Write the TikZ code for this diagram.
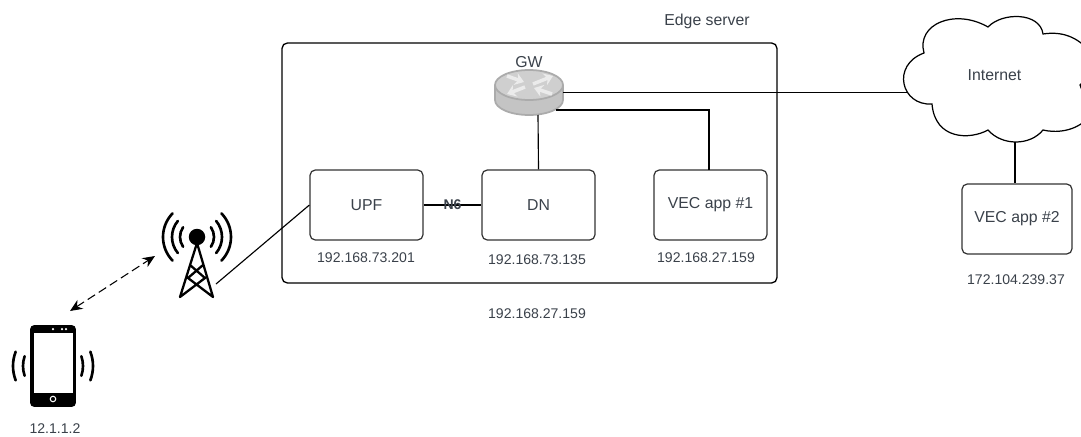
\documentclass[tikz,border=0pt]{standalone}
\usepackage{fontspec}
\setmainfont{Liberation Sans}
\usetikzlibrary{arrows.meta}
\usetikzlibrary{calc}
\usetikzlibrary{positioning}
\definecolor{txtgrey}{HTML}{3A414A}
\definecolor{routertop}{HTML}{CFCFCF}
\definecolor{routerside}{HTML}{C4C4C4}
\definecolor{routerline}{HTML}{ABABAB}

\begin{document}
\begin{tikzpicture}
	[
	x = 0.02cm,
	y = -0.02cm,
	> = {Stealth[length=7pt,width=6pt]},
	every node/.style = {font=\fontsize{8}{10}\selectfont,text=txtgrey},
	bigtext/.style = {font=\fontsize{9}{11}\selectfont},
	box/.style = {draw=black!80,line width=0.7pt,rounded corners=3pt,minimum width=2.26cm,minimum height=1.4cm,inner sep=0pt,bigtext},
	link/.style = {draw=black,line width=0.65pt},
	wave/.style = {draw=black,line width=1.5pt,line cap=round},
	crossarrow/.style = {draw=white!92!black,line width=2pt,-{Stealth[length=5pt,width=7pt]}}
	]

	\useasboundingbox (0,0) rectangle (1081,436);

	% edge server
	\node[draw=black,line width=0.75pt,rounded corners=3pt,minimum width=9.9cm,minimum height=4.8cm,inner sep=0pt] (edge) at (529.5,163) {};
	\node[bigtext] (edgelabel) at (707,21) {Edge server};
	\node (edgeip) at (537,314) {192.168.27.159};

	\node[box] (upf) at (366.5,205) {UPF};
	\node[box] (dn) at (538.5,205) {DN};
	\node[box] (app1) at (710.5,205) {VEC app \#1};
	\node[box,minimum width=2.2cm] (app2) at (1017,219) {VEC app \#2};

	\node (upfip) at (366,258) {192.168.73.201};
	\node (dnip) at (537,260) {192.168.73.135};
	\node (app1ip) at (706,258) {192.168.27.159};
	\node (app2ip) at (1016,280) {172.104.239.37};

	% router
	\coordinate (@gw) at (529,85);
	\coordinate (@gwright) at (563,92.5);
	\coordinate (@gwlow) at (556,110);
	\coordinate (@gwbottom) at (538,115);
	\node[bigtext] (gwlabel) at (529,62) {GW};
	\draw[routerline,fill=routerside,line width=1pt] (495,85) -- (495,100) arc[start angle=180,end angle=360,x radius=0.68cm,y radius=0.3cm] -- (563,85);
	\draw[routerline,fill=routertop,line width=1pt] (@gw) ellipse[x radius=0.68cm,y radius=0.3cm];
	\draw[crossarrow] (533,84) -- (553,76);
	\draw[crossarrow] (525,87) -- (507,94);
	\draw[crossarrow] (507,76) -- (524,82);
	\draw[crossarrow] (552,94) -- (534,88);

	% cloud
	\begin{scope}
		\clip (0,0) rectangle (1081,436);
		\draw[line width=0.7pt,fill=white] (924,53)
			.. controls (916,24) and (955,8) .. (988,27)
			.. controls (1002,12) and (1040,12) .. (1043,34)
			.. controls (1062,31) and (1078,37) .. (1090,52)
			.. controls (1092,70) and (1086,80) .. (1080,85)
			.. controls (1086,100) and (1090,112) .. (1088,118)
			.. controls (1075,132) and (1055,133) .. (1043,130)
			.. controls (1030,146) and (1002,146) .. (988,130)
			.. controls (970,140) and (935,140) .. (932,104)
			.. controls (901,106) and (891,65) .. (924,53) -- cycle;
	\end{scope}
	\node[bigtext] (cloudlabel) at (994.5,75) {Internet};
	\coordinate (@cloudleft) at (908,92.5);
	\coordinate (@cloudbottom) at (1015,142);

	% links
	\draw[link] (@gwright) -- (@cloudleft);
	\draw[link] (@gwlow) -| (709,170);
	\draw[link] (@gwbottom) -- (dn.north);
	\draw[link] (@cloudbottom) -- (@cloudbottom |- app2.north);
	\draw[line width=1pt] (upf) -- node[font=\bfseries\fontsize{8}{10}\selectfont,inner sep=0pt] (n6) {N6} (dn);

	% tower
	\coordinate (@tower) at (197,237);
	\coordinate (@towerfoot) at (216,284);
	\fill (@tower) circle (0.165cm);
	\draw[line width=1.3pt,line cap=round,line join=round] (180,297) -- (197,243) -- (213,297)
		(180,297) -- (205,278) -- (190,265) (213,297) -- (188,278) -- (203,265);
	\foreach \rad/\ang in {0.34/35,0.5/40,0.68/44} {
		\draw[wave] ([shift={(180-\ang:\rad cm)}]@tower) arc[start angle=180-\ang,end angle=180+\ang,radius=\rad cm];
		\draw[wave] ([shift={(-\ang:\rad cm)}]@tower) arc[start angle=-\ang,end angle=\ang,radius=\rad cm];
	}
	\draw[link] (upf.west) -- (@towerfoot);

	% phone
	\coordinate (@phone) at (53,366);
	\node[fill=black,rounded corners=2.5pt,minimum width=0.92cm,minimum height=1.64cm,inner sep=0pt] (phone) at (@phone) {};
	\node[fill=white,minimum width=0.78cm,minimum height=1.2cm,inner sep=0pt] (screen) at (53.5,363) {};
	\fill[white] (53,329) circle (0.025cm) (62,329) circle (0.025cm) (66,329) circle (0.025cm);
	\draw[white,line width=0.6pt] (53,399) circle (0.055cm);
	\foreach \rad/\ang in {0.6/19,0.8/21} {
		\draw[wave] ([shift={(180-\ang:\rad cm)}]@phone) arc[start angle=180-\ang,end angle=180+\ang,radius=\rad cm];
		\draw[wave] ([shift={(-\ang:\rad cm)}]@phone) arc[start angle=-\ang,end angle=\ang,radius=\rad cm];
	}
	\node (phoneip) at (55,429) {12.1.1.2};

	\coordinate (@radiotop) at (155,256);
	\coordinate (@radiolow) at (70,311);
	\draw[<->,dash pattern=on 5pt off 2.5pt,line width=0.6pt] (@radiolow) -- (@radiotop);

\end{tikzpicture}
\end{document}
